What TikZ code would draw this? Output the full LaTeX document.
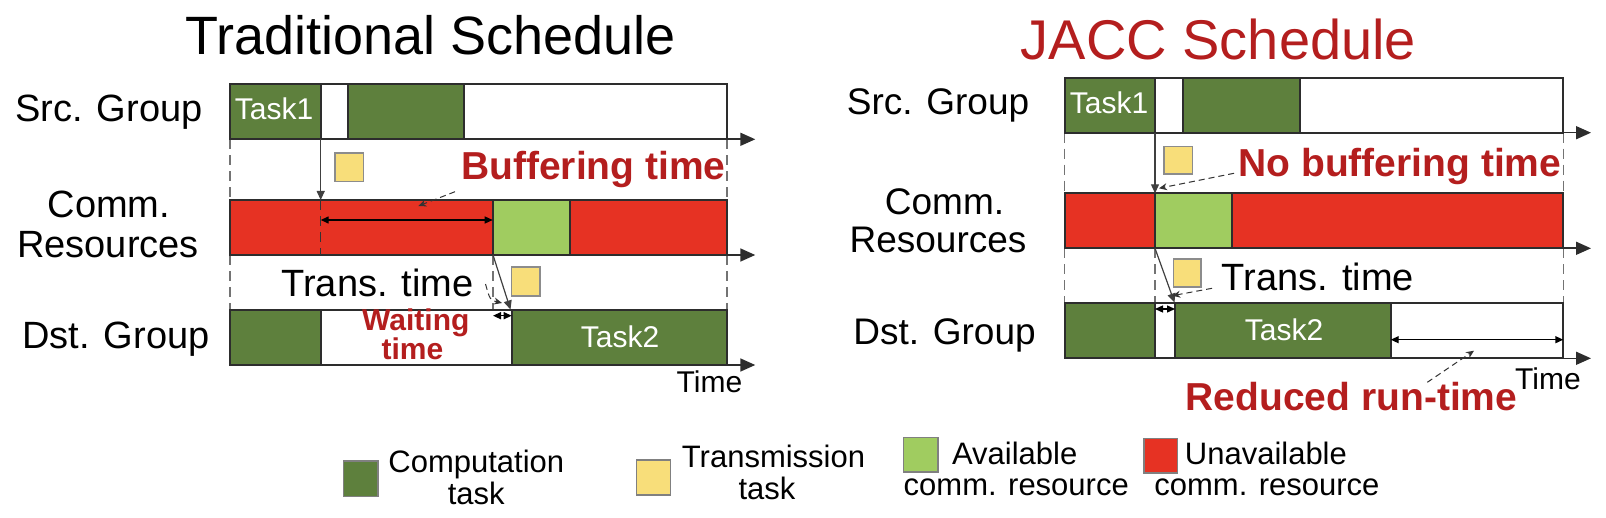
\documentclass[tikz,border=0pt]{standalone}
\usepackage{fontspec}
\setmainfont{Liberation Sans}
\usetikzlibrary{arrows.meta}
\definecolor{cgreen}{RGB}{94,128,61}
\definecolor{agreen}{RGB}{160,204,96}
\definecolor{ured}{RGB}{230,50,35}
\definecolor{tyellow}{RGB}{248,222,122}
\definecolor{dred}{RGB}{180,30,30}
\definecolor{edgec}{RGB}{45,45,45}
\newcommand\myfs[1]{\fontsize{#1}{#1}\selectfont}
\tikzset{
  seg/.style={draw=edgec, line width=0.9pt},
  comp/.style={seg, fill=cgreen},
  avail/.style={seg, fill=agreen},
  unavail/.style={seg, fill=ured},
  idle/.style={seg, fill=white},
  trans/.style={draw=black!45, line width=0.8pt, fill=tyellow},
  legbox/.style={draw=black!50, line width=0.8pt},
  axis/.style={draw=edgec, line width=0.8pt, -{Triangle[length=7.5pt,width=6.5pt]}},
  guide/.style={draw=black!55, line width=0.6pt, dash pattern=on 5pt off 3pt},
  darkguide/.style={draw=black!80, line width=0.7pt, dash pattern=on 5pt off 3pt},
  drop/.style={draw=black!75, line width=0.6pt, -{Triangle[length=4.5pt,width=4pt]}},
  span/.style={draw=black, line width=0.7pt, {Triangle[length=4pt,width=3.5pt]}-{Triangle[length=4pt,width=3.5pt]}},
  pointer/.style={draw=black!80, line width=0.5pt, dash pattern=on 3pt off 2pt, -{Stealth[length=4pt,width=3.5pt]}},
  lbl/.style={anchor=base, inner sep=0pt, font=\myfs{19}},
  rlbl/.style={anchor=base, inner sep=0pt, font=\myfs{18.5}},
  title/.style={anchor=base, inner sep=0pt, font=\myfs{27}},
  tasklbl/.style={anchor=base, inner sep=0pt, text=white, font=\myfs{15}},
  note/.style={anchor=base, inner sep=0pt, text=dred, font=\myfs{19.5}\bfseries},
  smallnote/.style={anchor=base, inner sep=0pt, text=dred, font=\myfs{15}\bfseries},
  timelbl/.style={anchor=base, inner sep=0pt, font=\myfs{15}},
  leg/.style={inner sep=0pt, font=\myfs{15.5}}
}
\begin{document}
\begin{tikzpicture}[x=0.5pt,y=-0.5pt]
\useasboundingbox (0,0) rectangle (1606,518);

% ===================== LEFT: Traditional schedule =====================
\node[title] (tTrad) at (430.7,55) {Traditional Schedule};
\node[lbl] (lSrc) at (109,121.7) {Src. Group};
\node[lbl] (lComm) at (109,218) {Comm.};
\node[lbl] (lRes) at (108,258) {Resources};
\node[lbl] (lDst) at (115.8,349) {Dst. Group};

% guides
\draw[guide] (230,139.3) -- (230,200);
\draw[guide] (727,139.3) -- (727,200);
\draw[guide] (230,255) -- (230,310);
\draw[guide] (727,255) -- (727,310);
\draw[guide] (493,255) -- (493,310);

% Src row
\draw[idle] (230,84) rectangle (727,139.3);
\draw[comp] (230,84) rectangle (320.7,139.3);
\draw[comp] (347.7,84) rectangle (464,139.3);
\draw[axis] (230,139.3) -- (755.3,139.3);
\node[tasklbl] (lT1) at (274,120) {Task1};

% Comm row
\draw[unavail] (230,200) rectangle (727,255);
\draw[avail] (493,200) rectangle (569.7,255);
\draw[axis] (230,255) -- (755.3,255);
\draw[darkguide] (320.7,200) -- (320.7,255);

% Dst row
\draw[idle] (230,310) rectangle (727,365);
\draw[comp] (230,310) rectangle (320.7,365);
\draw[comp] (511.7,310) rectangle (727,365);
\draw[axis] (230,365) -- (755.3,365);
\node[tasklbl] (lT2) at (620,347) {Task2};

% transmission tasks
\draw[trans] (335,153.3) rectangle (363.3,181.7);
\draw[trans] (511.4,267) rectangle (540,296);

% labels
\node[note] (lBuf) at (593.4,180) {Buffering time};
\node[lbl] (lTrans) at (377.5,296.7) {Trans. time};
\node[smallnote] (lWait1) at (415.8,330) {Waiting};
\node[smallnote] (lWait2) at (412.5,359) {time};
\node[timelbl] (lTime) at (709.5,392.3) {Time};

% connectors
\coordinate (lT1end) at (320.7,139.3);
\coordinate (lCommHit) at (320.7,200);
\coordinate (lBufA) at (320.7,220);
\coordinate (lBufB) at (492.7,220);
\coordinate (lBufFrom) at (455,191.7);
\coordinate (lBufTo) at (418.3,206);
\coordinate (lGreenBot) at (493,255);
\coordinate (lT2start) at (510.5,309.5);
\coordinate (lTrFrom) at (485.5,284);
\coordinate (lTrTo) at (502,303);
\coordinate (lWaitA) at (493,315.7);
\coordinate (lWaitB) at (511.7,315.7);
\draw[drop] (lT1end) -- (lCommHit);
\draw[span] (lBufA) -- (lBufB);
\draw[pointer] (lBufFrom) -- (lBufTo);
\draw[drop] (lGreenBot) -- (lT2start);
\draw[pointer] (lTrFrom) .. controls (490,300) .. (lTrTo);
\draw[span] (lWaitA) -- (lWaitB);

% ===================== RIGHT: JACC schedule =====================
\node[title, text=dred, font=\myfs{28}] (tJacc) at (1218.5,60) {JACC Schedule};
\node[rlbl] (rSrc) at (938,115) {Src. Group};
\node[rlbl] (rComm) at (944.5,215) {Comm.};
\node[rlbl] (rRes) at (938,253) {Resources};
\node[rlbl] (rDst) at (944.5,344) {Dst. Group};

% guides
\draw[guide] (1064.7,132.7) -- (1064.7,193.3);
\draw[guide] (1563.3,132.7) -- (1563.3,193.3);
\draw[guide] (1064.7,248.3) -- (1064.7,303);
\draw[guide] (1563.3,248.3) -- (1563.3,303);
\draw[guide] (1155,248.3) -- (1155,303);

% Src row
\draw[idle] (1064.7,77.7) rectangle (1563.3,132.7);
\draw[comp] (1064.7,77.7) rectangle (1155,132.7);
\draw[comp] (1183,77.7) rectangle (1299.7,132.7);
\draw[axis] (1064.7,132.7) -- (1591,132.7);
\node[tasklbl] (rT1) at (1109,113.3) {Task1};

% Comm row
\draw[unavail] (1064.7,193.3) rectangle (1563.3,248.3);
\draw[avail] (1155,193.3) rectangle (1231.7,248.3);
\draw[axis] (1064.7,248.3) -- (1591,248.3);

% Dst row
\draw[idle] (1064.7,303) rectangle (1563.3,358.3);
\draw[comp] (1064.7,303) rectangle (1155,358.3);
\draw[comp] (1175,303) rectangle (1390.7,358.3);
\draw[axis] (1064.7,358.3) -- (1591,358.3);
\node[tasklbl] (rT2) at (1284,340.7) {Task2};

% transmission tasks
\draw[trans] (1164,146.7) rectangle (1192.3,174);
\draw[trans] (1173.3,259.3) rectangle (1200.7,287);

% labels
\node[note] (rNoBuf) at (1399.8,176.7) {No buffering time};
\node[rlbl, font=\myfs{19}] (rTrans) at (1318,290.7) {Trans. time};
\node[timelbl] (rTime) at (1548,389) {Time};
\node[note] (rRed) at (1351.5,410.7) {Reduced run-time};

% connectors
\coordinate (rT1end) at (1155,132.7);
\coordinate (rCommHit) at (1155,193.3);
\coordinate (rNbFrom) at (1234,173.3);
\coordinate (rNbTo) at (1159,188.3);
\coordinate (rGreenBot) at (1155,248.3);
\coordinate (rT2start) at (1174.5,302.5);
\coordinate (rTrFrom) at (1212,288.3);
\coordinate (rTrTo) at (1172.3,295.7);
\coordinate (rGapA) at (1155,309);
\coordinate (rGapB) at (1175,309);
\coordinate (rRunA) at (1390.7,339.7);
\coordinate (rRunB) at (1563.3,339.7);
\coordinate (rRedFrom) at (1427.3,382.3);
\coordinate (rRedTo) at (1474,350.7);
\draw[drop] (rT1end) -- (rCommHit);
\draw[pointer] (rNbFrom) -- (rNbTo);
\draw[drop] (rGreenBot) -- (rT2start);
\draw[pointer] (rTrFrom) -- (rTrTo);
\draw[span] (rGapA) -- (rGapB);
\draw[span] (rRunA) -- (rRunB);
\draw[pointer] (rRedFrom) -- (rRedTo);

% ===================== LEGEND =====================
\draw[legbox, fill=cgreen] (343.3,460.7) rectangle (377.7,496.3);
\node[leg, anchor=base] (legComp1) at (476.3,472.3) {Computation};
\node[leg, anchor=base] (legComp2) at (476.3,504) {task};

\draw[legbox, fill=tyellow] (636.3,460) rectangle (670.3,495);
\node[leg, anchor=base] (legTr1) at (773.5,467.3) {Transmission};
\node[leg, anchor=base] (legTr2) at (767,499) {task};

\draw[legbox, fill=agreen] (903.5,437.3) rectangle (938,471.7);
\node[leg, anchor=base west] (legAv1) at (951.7,464.3) {Available};
\node[leg, anchor=base west] (legAv2) at (903.3,495) {comm. resource};

\draw[legbox, fill=ured] (1144,438.5) rectangle (1177.5,473);
\node[leg, anchor=base west] (legUn1) at (1184.5,464) {Unavailable};
\node[leg, anchor=base west] (legUn2) at (1154,495.7) {comm. resource};
\end{tikzpicture}
\end{document}
